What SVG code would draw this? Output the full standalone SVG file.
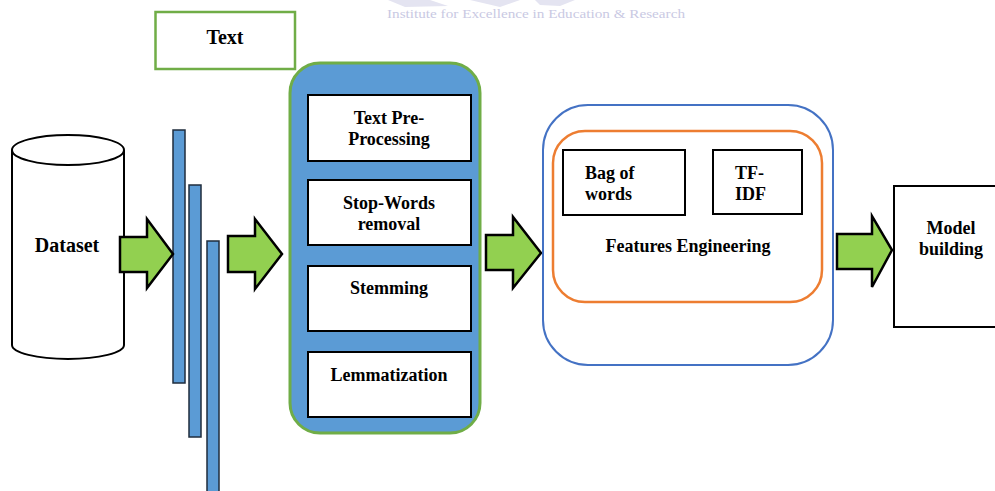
<svg xmlns="http://www.w3.org/2000/svg" width="995" height="491" viewBox="0 0 995 491">
<style>
text{font-family:"Liberation Serif","Times New Roman",serif;font-weight:bold;fill:#000;}
.c{text-anchor:middle;}
.box{fill:#fff;stroke:#000;stroke-width:2;}
.arrow{fill:#92d050;stroke:#000;stroke-width:2.5;stroke-linejoin:miter;}
.bar{fill:#5b9bd5;stroke:#1f2d3d;stroke-width:1.5;}
.wm{font-weight:normal;fill:#c9c9e3;font-size:13px;}
</style>
<g id="watermark">
<path d="M388,0 L430,0 L448,6 L405,7 Z" fill="#e4e4f1"/>
<path d="M470,0 L520,0 L500,7 Z" fill="#e4e4f1"/>
<path d="M535,0 L575,0 L560,6 L540,5 Z" fill="#e4e4f1"/>
<text class="wm" x="387" y="18" textLength="298" lengthAdjust="spacingAndGlyphs">Institute for Excellence in Education &amp; Research</text>
</g>
<g id="text-label">
<rect x="155.5" y="12" width="139.5" height="57" fill="#fff" stroke="#70ad47" stroke-width="2.5"/>
<text class="c" x="225" y="44" font-size="20">Text</text>
</g>
<g id="dataset">
<path d="M12,150 L12,345 A56,14 0 0 0 124,345 L124,150" fill="#fff" stroke="#000" stroke-width="2"/>
<ellipse cx="68" cy="150" rx="56" ry="15" fill="#fff" stroke="#000" stroke-width="2"/>
<text class="c" x="67" y="252" font-size="20">Dataset</text>
</g>
<g id="bars">
<rect class="bar" x="173" y="130" width="12" height="253"/>
<rect class="bar" x="189" y="185" width="12" height="252"/>
<rect class="bar" x="207" y="241" width="12" height="260"/>
</g>
<g id="connectors">
<path class="arrow" d="M120,237 L147,237 L147,219 L173,254 L147,288 L147,272 L120,272 Z"/>
<path class="arrow" d="M228,236 L255,236 L255,219 L282,254 L255,289 L255,272 L228,272 Z"/>
<path class="arrow" d="M486,235 L513,235 L513,217 L541,253 L513,288 L513,270 L486,270 Z"/>
<path class="arrow" d="M837,234 L872,234 L872,216 L892,250 L872,287 L872,269 L837,269 Z"/>
</g>
<g id="preprocessing">
<rect x="290" y="63" width="190" height="370" rx="30" ry="30" fill="#5b9bd5" stroke="#70ad47" stroke-width="3"/>
<g id="text-preprocessing">
<rect class="box" x="308" y="95" width="163" height="66"/>
<text class="c" x="389" y="124" font-size="18">Text Pre-</text>
<text class="c" x="389" y="145" font-size="18">Processing</text>
</g>
<g id="stopwords">
<rect class="box" x="308" y="180" width="163" height="65"/>
<text class="c" x="389" y="209" font-size="18">Stop-Words</text>
<text class="c" x="389" y="230" font-size="18">removal</text>
</g>
<g id="stemming">
<rect class="box" x="308" y="266" width="163" height="65"/>
<text class="c" x="389" y="294" font-size="18">Stemming</text>
</g>
<g id="lemmatization">
<rect class="box" x="308" y="352" width="163" height="65"/>
<text class="c" x="389" y="381" font-size="18">Lemmatization</text>
</g>
</g>
<g id="features">
<rect x="543" y="105" width="290" height="260" rx="45" ry="45" fill="#fff" stroke="#4472c4" stroke-width="2"/>
<rect x="553" y="131" width="269" height="171" rx="32" ry="32" fill="#fff" stroke="#ed7d31" stroke-width="2.5"/>
<g id="bagofwords">
<rect class="box" x="563" y="150" width="122" height="65"/>
<text x="585" y="179" font-size="18">Bag of</text>
<text x="585" y="200" font-size="18">words</text>
</g>
<g id="tfidf">
<rect class="box" x="713" y="150" width="89" height="64"/>
<text x="735" y="179" font-size="18">TF-</text>
<text x="735" y="200" font-size="18">IDF</text>
</g>
<text class="c" x="688" y="252" font-size="18">Features Engineering</text>
</g>
<g id="model">
<rect class="box" x="894" y="186" width="110" height="141"/>
<text class="c" x="951" y="234" font-size="18">Model</text>
<text class="c" x="951" y="255" font-size="18">building</text>
</g>
</svg>
